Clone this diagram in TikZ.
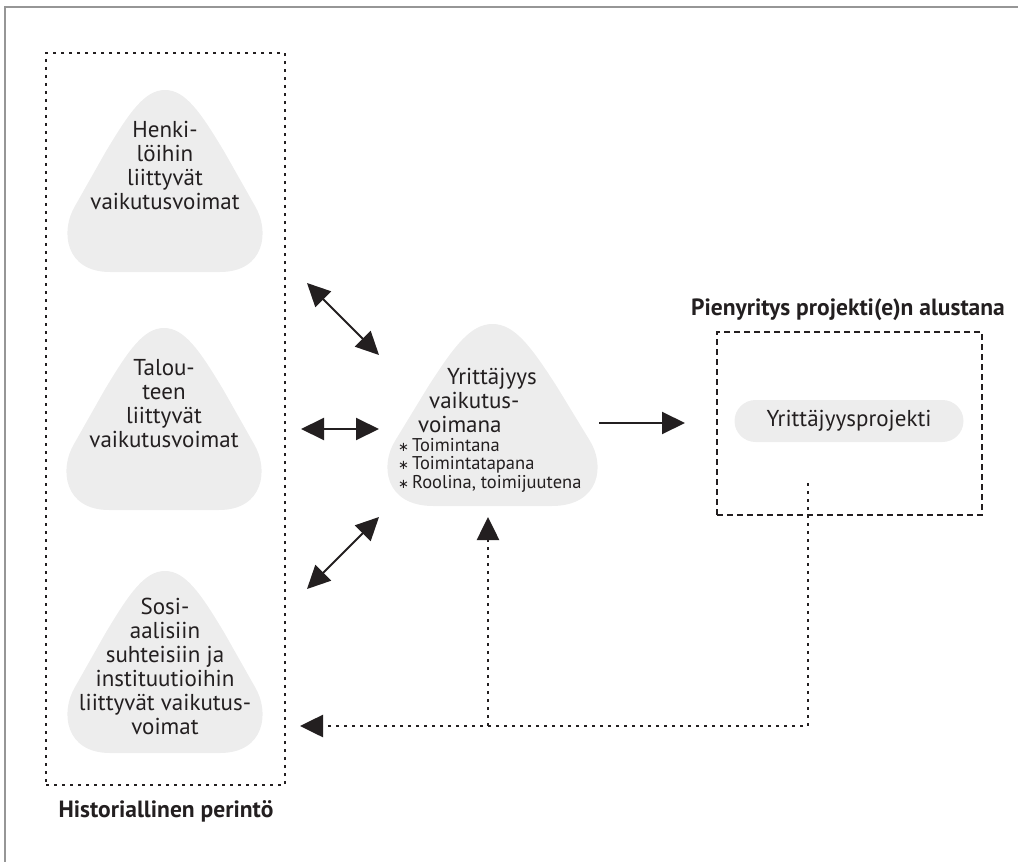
\documentclass[tikz,border=0pt]{standalone}
\usepackage{fontspec}
\setmainfont{PT Sans}
\newfontfamily\starfont{DejaVu Sans}
\usetikzlibrary{arrows.meta}
\definecolor{blobgray}{RGB}{237,237,237}
\definecolor{framegray}{RGB}{150,150,150}
\definecolor{inkgray}{RGB}{35,31,32}
\tikzset{my blob/.pic={\fill[blobgray] (0,-91) .. controls (20,-91) and (35,-70) .. (60,-28) -- (90,25) .. controls (105,50) and (100,91) .. (55,91) -- (-55,91) .. controls (-100,91) and (-105,50) .. (-90,25) -- (-60,-28) .. controls (-35,-70) and (-20,-91) .. (0,-91) -- cycle;},
my text/.style={align=center, inner sep=0pt, text=inkgray, font=\fontsize{23}{24}\selectfont},
my list/.style={align=left, inner sep=0pt, text=inkgray, font=\fontsize{18.5}{18.5}\selectfont},
my title/.style={inner sep=0pt, text=inkgray, font=\fontsize{23.5}{24}\selectfont\bfseries},
my pill/.style={fill=blobgray, rounded corners=21pt, minimum width=229pt, minimum height=42pt, inner sep=0pt, text=inkgray, font=\fontsize{23}{24}\selectfont},
my dotbox/.style={draw=inkgray, line width=2.6pt, dash pattern=on 2.6pt off 5.4pt},
my dashbox/.style={draw=inkgray, line width=2pt, dash pattern=on 6pt off 4pt},
my arrow/.style={draw=inkgray, line width=2pt},
my dots/.style={draw=inkgray, line width=2.6pt, dash pattern=on 2.6pt off 5.4pt},
my frame/.style={draw=framegray, line width=1.8pt},
}
\newcommand{\mystar}{{\starfont\fontsize{13}{13}\selectfont ∗}\,}

\begin{document}
\begin{tikzpicture}[x=1pt,y=-1pt,>={Triangle[length=23pt,width=22pt]}]
\useasboundingbox (0,0) rectangle (1018,862);
\draw[my frame] (5,862) -- (5,7) -- (1018,7);

\node [my dotbox, minimum width=239pt, minimum height=732pt] (hist) at (165.5,419) {};
\node [my title, anchor=base] (histlabel) at (166,817) {Historiallinen perintö};

\pic at (165,181) {my blob};
\pic at (164,419) {my blob};
\pic at (165,662) {my blob};
\pic [xscale=1.077] at (492.5,415) {my blob};

\node [my text] (henki) at (165,165) {Henki-\\löihin\\liittyvät\\vaikutusvoimat};
\node [my text] (talous) at (164,404) {Talou-\\teen\\liittyvät\\vaikutusvoimat};
\node [my text] (sosiaali) at (165,666) {Sosi-\\aalisiin\\suhteisiin ja\\instituutioihin\\liittyvät vaikutus-\\voimat};
\node [my text, align=left, anchor=north west] (yritys) at (398,368) {\hspace*{49pt}Yrittäjyys\\\hspace*{31pt}vaikutus-\\\hspace*{20pt}voimana};
\node [my list, anchor=north west] (yrityslista) at (398,438) {\mystar Toimintana\\\mystar Toimintatapana\\\mystar Roolina, toimijuutena};

\node [my dashbox, minimum width=265pt, minimum height=183pt] (alusta) at (849.5,423.5) {};
\node [my title, anchor=base] (alustalabel) at (848,315) {Pienyritys projekti(e)n alustana};
\node [my pill] (projekti) at (849,421) {Yrittäjyysprojekti};

\coordinate (ylaA) at (307,283);
\coordinate (ylaB) at (379,355);
\coordinate (keskiA) at (301,429);
\coordinate (keskiB) at (379,429);
\coordinate (alaA) at (307,589);
\coordinate (alaB) at (379,517);
\coordinate (oikeaA) at (599,423);
\coordinate (oikeaB) at (685,423);
\draw [my arrow, <->] (ylaA) -- (ylaB);
\draw [my arrow, <->] (keskiA) -- (keskiB);
\draw [my arrow, <->] (alaA) -- (alaB);
\draw [my arrow, ->] (oikeaA) -- (oikeaB);

\coordinate (palauteA) at (808,483);
\coordinate (palauteB) at (300,726);
\coordinate (palauteC) at (488,517);
\draw [my dots, ->] (palauteA) |- (palauteB);
\draw [my dots, ->] (palauteC |- palauteB) -- (palauteC);
\end{tikzpicture}
\end{document}
